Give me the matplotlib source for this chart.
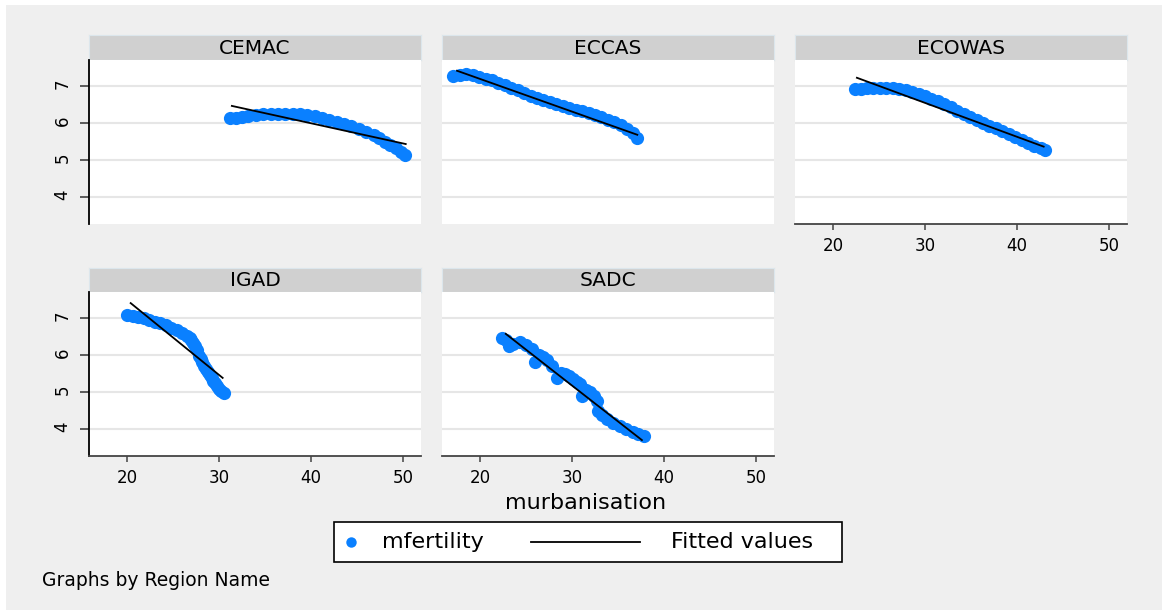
import matplotlib
matplotlib.use("Agg")
import matplotlib.pyplot as plt
from matplotlib.patches import Rectangle
from matplotlib.lines import Line2D

W, H = 1162, 610

# mfertility against murbanisation
cemac_x = [31.2, 31.8, 32.5, 33.2, 34.0, 34.8, 35.6, 36.4, 37.2, 38.0, 38.8, 39.6, 40.4,
           41.2, 42.0, 42.8, 43.6, 44.4, 45.2, 46.0, 46.8, 47.4, 48.0, 48.6, 49.2, 49.8, 50.2]
cemac_y = [6.12, 6.13, 6.15, 6.18, 6.21, 6.23, 6.24, 6.25, 6.25, 6.24, 6.23, 6.21, 6.18,
           6.14, 6.09, 6.03, 5.97, 5.91, 5.84, 5.76, 5.67, 5.58, 5.49, 5.40, 5.31, 5.21, 5.14]
cemac_fit = ([31.4, 50.3], [6.46, 5.43])

eccas_x = [17.1, 17.8, 18.5, 19.2, 19.9, 20.6, 21.3, 22.0, 22.7, 23.4, 24.1, 24.8, 25.5,
           26.2, 26.9, 27.6, 28.3, 29.0, 29.7, 30.4, 31.1, 31.8, 32.5, 33.2, 33.9, 34.6,
           35.3, 36.0, 36.6, 37.1]
eccas_y = [7.27, 7.30, 7.31, 7.29, 7.25, 7.20, 7.15, 7.09, 7.02, 6.95, 6.88, 6.81, 6.74,
           6.68, 6.62, 6.56, 6.51, 6.46, 6.41, 6.36, 6.31, 6.26, 6.21, 6.15, 6.09, 6.02,
           5.94, 5.84, 5.72, 5.60]
eccas_fit = ([17.5, 37.1], [7.41, 5.68])

ecowas_x = [22.4, 23.0, 23.7, 24.4, 25.1, 25.8, 26.5, 27.2, 27.9, 28.6, 29.3, 30.0, 30.7,
            31.4, 32.1, 32.8, 33.5, 34.2, 34.9, 35.6, 36.3, 37.0, 37.7, 38.4, 39.1, 39.8,
            40.5, 41.2, 41.9, 42.6, 43.0]
ecowas_y = [6.92, 6.93, 6.94, 6.95, 6.95, 6.95, 6.94, 6.92, 6.89, 6.84, 6.78, 6.72, 6.65,
            6.58, 6.50, 6.42, 6.33, 6.25, 6.17, 6.09, 6.01, 5.93, 5.85, 5.77, 5.69, 5.61,
            5.53, 5.46, 5.38, 5.31, 5.26]
ecowas_fit = ([22.6, 42.9], [7.22, 5.36])

igad_x = [20.0, 20.6, 21.2, 21.8, 22.4, 23.0, 23.6, 24.2, 24.8, 25.4, 26.0, 26.5, 26.8,
          27.0, 27.2, 27.4, 27.6, 27.8, 28.0, 28.2, 28.4, 28.6, 28.8, 29.0, 29.2, 29.4,
          29.6, 29.8, 30.0, 30.2, 30.5]
igad_y = [7.08, 7.06, 7.03, 6.99, 6.94, 6.90, 6.86, 6.80, 6.74, 6.68, 6.60, 6.52, 6.46,
          6.40, 6.33, 6.25, 6.12, 5.98, 5.89, 5.80, 5.71, 5.62, 5.53, 5.45, 5.37, 5.30,
          5.23, 5.16, 5.09, 5.03, 4.97]
igad_fit = ([20.4, 30.4], [7.40, 5.38])

sadc_x = [22.4, 22.8, 23.1, 23.6, 24.4, 25.0, 25.7, 26.0, 26.4, 26.9, 27.3, 27.8, 28.4,
          28.8, 29.2, 29.7, 30.1, 30.5, 30.9, 31.1, 31.5, 32.0, 32.4, 32.7, 32.8, 33.3,
          33.8, 34.5, 35.2, 35.9, 36.6, 37.2, 37.8]
sadc_y = [6.46, 6.40, 6.24, 6.30, 6.35, 6.27, 6.16, 5.81, 6.00, 5.95, 5.85, 5.70, 5.38,
          5.50, 5.49, 5.42, 5.35, 5.28, 5.22, 4.89, 5.05, 5.00, 4.88, 4.76, 4.49, 4.38,
          4.27, 4.17, 4.08, 4.00, 3.92, 3.86, 3.81]
sadc_fit = ([22.8, 37.6], [6.57, 3.70])

regions = ["CEMAC", "ECCAS", "ECOWAS", "IGAD", "SADC"]
points = [(cemac_x, cemac_y), (eccas_x, eccas_y), (ecowas_x, ecowas_y),
          (igad_x, igad_y), (sadc_x, sadc_y)]
fits = [cemac_fit, eccas_fit, ecowas_fit, igad_fit, sadc_fit]
x_ticks = [20, 30, 40, 50]
y_ticks = [4, 5, 6, 7]

BLUE = "#0a80ff"
BG = "#efefef"


def rect(x0, y0, x1, y1):
    # pixel box (top-left origin) -> figure fraction
    return [x0 / W, 1 - y1 / H, (x1 - x0) / W, (y1 - y0) / H]


def fx(x):
    return x / W


def fy(y):
    return 1 - y / H


fig = plt.figure(figsize=(W / 100, H / 100), dpi=100, facecolor="white")
fig.patches.append(Rectangle((fx(6), 0), 1 - fx(6), fy(5), transform=fig.transFigure,
                             facecolor=BG, edgecolor="none", zorder=-10))

col_x = [89, 442, 795]
row_y = [(35, 60, 224), (268, 292, 456)]
cells = [(0, 0), (0, 1), (0, 2), (1, 0), (1, 1)]
bottom_panels = {"ECOWAS", "IGAD", "SADC"}

for name, (r, c), (px, py), (fxs, fys) in zip(regions, cells, points, fits):
    x0 = col_x[c]
    s0, p0, p1 = row_y[r]

    strip = fig.add_axes(rect(x0, s0, x0 + 332, p0))
    strip.set_facecolor("#d0d0d0")
    strip.set_xticks([])
    strip.set_yticks([])
    for sp in strip.spines.values():
        sp.set_color("#dce6ec")
        sp.set_linewidth(0.8)
    strip.text(0.5, 0.47, name, ha="center", va="center", fontsize=14.5, color="black",
               transform=strip.transAxes)

    ax = fig.add_axes(rect(x0, p0, x0 + 332, p1))
    ax.set_facecolor("white")
    ax.set_xlim(15.87, 51.96)
    ax.set_ylim(3.27, 7.70)
    ax.set_xticks(x_ticks)
    ax.set_yticks(y_ticks)
    ax.yaxis.grid(True, color="#e6e6e6", linewidth=1.5)
    ax.set_axisbelow(True)

    ax.plot(px, py, "o", color=BLUE, markersize=9.5, markeredgewidth=0, zorder=2)
    ax.plot(fxs, fys, color="black", linewidth=1.3, zorder=3)

    for sp in ax.spines.values():
        sp.set_visible(False)

    if c == 0:
        ax.spines["left"].set_visible(True)
        ax.spines["left"].set_color("black")
        ax.spines["left"].set_linewidth(1.3)
        ax.tick_params(axis="y", length=6.5, width=1.1, color="#333333", pad=6,
                       labelsize=12, labelrotation=90)
    else:
        ax.tick_params(axis="y", length=0, labelleft=False)

    if name in bottom_panels:
        ax.spines["bottom"].set_visible(True)
        ax.spines["bottom"].set_color("#444444")
        ax.spines["bottom"].set_linewidth(1.3)
        ax.tick_params(axis="x", length=4.5, width=1.1, color="#444444", pad=5,
                       labelsize=12)
    else:
        ax.tick_params(axis="x", length=0, labelbottom=False)

fig.text(fx(586), fy(503), "murbanisation", ha="center", va="center", fontsize=16,
         color="black")

# legend box
fig.patches.append(Rectangle((fx(334), fy(562)), fx(842) - fx(334), fy(522) - fy(562),
                             transform=fig.transFigure, facecolor="white",
                             edgecolor="black", linewidth=1.2, zorder=5))
fig.lines.append(Line2D([fx(351)], [fy(542)], marker="o", color=BLUE, markersize=7.5,
                        markeredgewidth=0, linestyle="none", transform=fig.transFigure,
                        zorder=6))
fig.lines.append(Line2D([fx(531), fx(640)], [fy(542), fy(542)], color="black",
                        linewidth=1.3, transform=fig.transFigure, zorder=6))
fig.text(fx(433), fy(542), "mfertility", ha="center", va="center", fontsize=16,
         color="black", zorder=7)
fig.text(fx(742), fy(542), "Fitted values", ha="center", va="center", fontsize=16,
         color="black", zorder=7)

fig.text(fx(42), fy(580), "Graphs by Region Name", ha="left", va="center",
         fontsize=13.5, color="black")

fig.savefig("out.png", dpi=100, facecolor=fig.get_facecolor())
